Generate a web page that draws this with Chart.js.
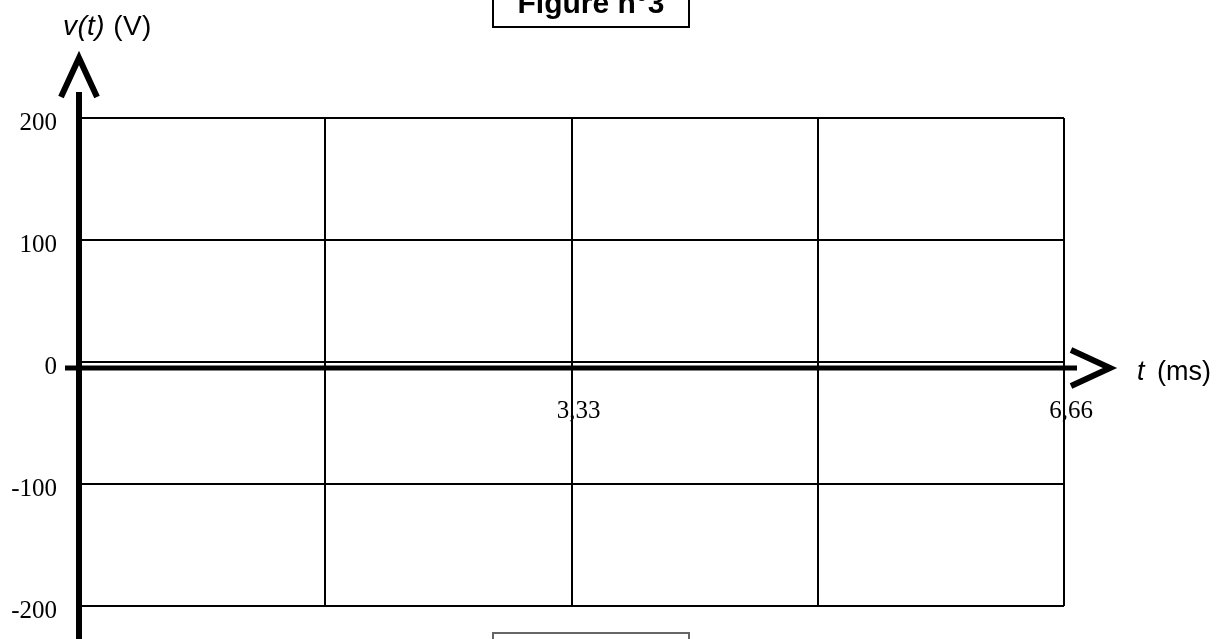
<!DOCTYPE html>
<html>
<head>
<meta charset="utf-8">
<script src="https://cdn.jsdelivr.net/npm/chart.js@4.4.1/dist/chart.umd.min.js"></script>
<style>
  html, body { margin: 0; padding: 0; background: #fff; overflow: hidden; }
  #wrap { position: relative; width: 1226px; height: 639px; }
  .lbl { position: absolute; font-family: 'Liberation Sans', Arial, sans-serif; color: #000; line-height: 1; white-space: nowrap; }
  #titleBox { position: absolute; left: 492px; top: -22px; width: 198px; height: 50px; box-sizing: border-box; border: 2px solid #000; }
  #captionBox { position: absolute; left: 492px; top: 632px; width: 198px; height: 40px; box-sizing: border-box; border: 2px solid #666; }
</style>
</head>
<body>
<div id="wrap">
  <canvas id="myChart" width="1226" height="639"></canvas>
  <div id="titleBox"></div>
  <div class="lbl" style="left:492px; width:198px; text-align:center; top:-12px; font-size:30px; font-weight:bold;">Figure n°3</div>
  <div id="captionBox"></div>
  <div class="lbl" style="left:63px; top:12px; font-size:28px; letter-spacing:0.4px;"><i>v(t)</i> (V)</div>
  <div class="lbl" style="left:1137px; top:358px; font-size:27px; word-spacing:5px;"><i>t</i> (ms)</div>
</div>
<script>
// data
const timeTicks = [0, 1.665, 3.33, 4.995, 6.66];
const timeLabels = ['', '', '3,33', '', '6,66'];
const voltTicks = [-200, -100, 0, 100, 200];
const signal = []; // nothing plotted yet on figure 3

// thick axes + arrow heads
const axisArrows = {
  id: 'axisArrows',
  afterDraw: (chart) => {
    const ctx = chart.ctx;
    const x = chart.scales.x;
    const y = chart.scales.y;
    const area = chart.chartArea;
    const x0 = x.getPixelForValue(0);
    const y0 = y.getPixelForValue(0) + 6; // axis drawn a bit under the 0 grid line
    ctx.save();
    ctx.strokeStyle = '#000';
    ctx.lineCap = 'butt';
    // vertical axis
    ctx.lineWidth = 6;
    ctx.beginPath();
    ctx.moveTo(x0, area.top - 26);
    ctx.lineTo(x0, chart.height);
    ctx.stroke();
    // horizontal axis
    ctx.lineWidth = 5;
    ctx.beginPath();
    ctx.moveTo(x0 - 14, y0);
    ctx.lineTo(area.right + 13, y0);
    ctx.stroke();
    // arrow heads
    ctx.lineWidth = 6;
    ctx.lineJoin = 'miter';
    ctx.beginPath();
    ctx.moveTo(x0 - 18, area.top - 21);
    ctx.lineTo(x0, area.top - 60);
    ctx.lineTo(x0 + 18, area.top - 21);
    ctx.stroke();
    ctx.beginPath();
    ctx.moveTo(area.right + 7, y0 - 18);
    ctx.lineTo(area.right + 46, y0);
    ctx.lineTo(area.right + 7, y0 + 18);
    ctx.stroke();
    ctx.restore();
  }
};

const config = {
  type: 'scatter',
  data: {
    datasets: [{ label: 'v(t)', data: signal, borderColor: '#000', showLine: true }]
  },
  options: {
    responsive: false,
    animation: false,
    layout: { padding: { top: 118, right: 162, bottom: 33, left: 0 } },
    plugins: { legend: { display: false }, tooltip: { enabled: false } },
    scales: {
      x: {
        type: 'linear',
        position: { y: 0 },
        min: 0,
        max: 6.66,
        afterBuildTicks: (s) => { s.ticks = timeTicks.map(v => ({ value: v })); },
        ticks: {
          autoSkip: false,
          maxRotation: 0,
          padding: 34,
          labelOffset: 7,
          color: '#000',
          font: { family: "'Liberation Serif', 'Times New Roman', serif", size: 25 },
          callback: (v, i) => timeLabels[i]
        },
        grid: { color: '#000', lineWidth: 2, drawTicks: false },
        border: { display: false }
      },
      y: {
        min: -200,
        max: 200,
        afterFit: (s) => { s.width = 79; s.paddingTop = 0; s.paddingBottom = 0; },
        afterBuildTicks: (s) => { s.ticks = voltTicks.map(v => ({ value: v })); },
        ticks: {
          padding: 22,
          labelOffset: 5,
          color: '#000',
          font: { family: "'Liberation Serif', 'Times New Roman', serif", size: 25 },
          callback: (v) => String(v)
        },
        grid: { color: '#000', lineWidth: 2, drawTicks: false },
        border: { display: false }
      }
    }
  },
  plugins: [axisArrows]
};

const myChart = new Chart(document.getElementById('myChart'), config);
</script>
</body>
</html>
